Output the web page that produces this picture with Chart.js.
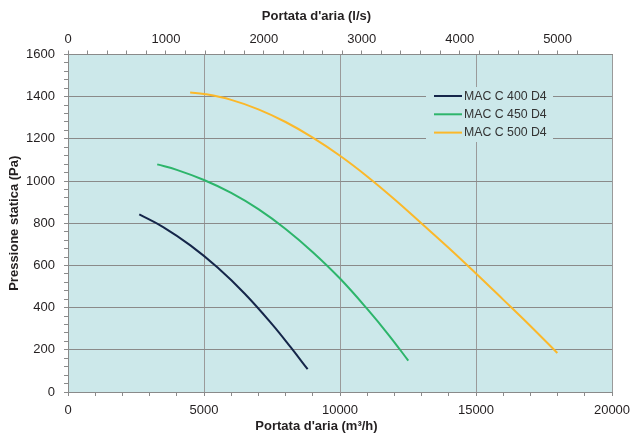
<!DOCTYPE html>
<html>
<head>
<meta charset="utf-8">
<title>Curve ventilatori MAC C</title>
<script src="https://cdn.jsdelivr.net/npm/chart.js@4.4.0/dist/chart.umd.min.js"></script>
<style>
    html, body { margin: 0; padding: 0; background: #fff; }
    #contenitore { width: 633px; height: 436px; }
</style>
</head>
<body>
<div id="contenitore"><canvas id="graficaCurve"></canvas></div>
<script>
// Portata (m3/h) e pressione statica (Pa)
const portata400 = [2620, 3500, 4500, 5500, 6500, 7500, 8200, 8810];
const pressione400 = [842, 782, 695, 590, 466, 322, 210, 108];

const portata450 = [3280, 4000, 5000, 6000, 7000, 8000, 9000, 10000, 11000, 11800, 12510];
const pressione450 = [1079, 1053, 1005, 944, 867, 773, 663, 538, 394, 269, 149];

const portata500 = [4490, 5000, 6000, 7000, 8000, 9000, 10000, 11000, 12000, 13000, 14000, 15000, 16000, 17000, 17990];
const pressione500 = [1420, 1413, 1385, 1340, 1280, 1206, 1120, 1022, 914, 799, 683, 562, 438, 313, 185];

const nomi = ["MAC C 400 D4", "MAC C 450 D4", "MAC C 500 D4"];
const colori = ["#15264a", "#2db56b", "#fbb82a"];

// Assi
const limitiPortata = [0, 20000];      // m3/h
const limitiPressione = [0, 1600];     // Pa
const m3hPerLs = 3.6;

const coloreSfondo = "#cce8ea";
const coloreGriglia = "#8a8a8a";
const coloreTesto = "#231f20";

Chart.defaults.font.family = '"Liberation Sans", Arial, sans-serif';
Chart.defaults.font.size = 13;
Chart.defaults.color = coloreTesto;

const punti = (xs, ys) => xs.map((x, i) => ({ x: x, y: ys[i] }));

// Sfondo dell'area del grafico
const sfondoArea = {
    id: "sfondoArea",
    beforeDraw(chart) {
        const { ctx, chartArea: a } = chart;
        ctx.save();
        ctx.fillStyle = coloreSfondo;
        ctx.fillRect(a.left, a.top, a.right - a.left, a.bottom - a.top);
        ctx.restore();
    }
};

// Legenda dentro l'area, sopra la griglia
const legendaInterna = {
    id: "legendaInterna",
    beforeDatasetsDraw(chart) {
        const { ctx, chartArea: a } = chart;
        const x0 = a.left + 358, y0 = a.top + 32.5;
        ctx.save();
        ctx.fillStyle = coloreSfondo;
        ctx.fillRect(x0, y0, 127, 55);
        ctx.font = '12.3px "Liberation Sans", Arial, sans-serif';
        ctx.textBaseline = "middle";
        chart.data.datasets.forEach((ds, i) => {
            const y = y0 + 9 + i * 18.3;
            ctx.strokeStyle = ds.borderColor;
            ctx.lineWidth = 2;
            ctx.beginPath();
            ctx.moveTo(x0 + 8, y);
            ctx.lineTo(x0 + 36, y);
            ctx.stroke();
            ctx.fillStyle = "#333";
            ctx.fillText(ds.label, x0 + 38, y + 0.5);
        });
        ctx.restore();
    }
};

// niente margini extra per le etichette agli estremi
const senzaPadding = s => { s.paddingLeft = 0; s.paddingRight = 0; };

const ctx = document.getElementById("graficaCurve").getContext("2d");

new Chart(ctx, {
    type: "scatter",
    data: {
        datasets: [
            { label: nomi[0], data: punti(portata400, pressione400), borderColor: colori[0] },
            { label: nomi[1], data: punti(portata450, pressione450), borderColor: colori[1] },
            { label: nomi[2], data: punti(portata500, pressione500), borderColor: colori[2] }
        ].map(ds => Object.assign(ds, {
            showLine: true,
            pointRadius: 0,
            borderWidth: 2,
            fill: false,
            tension: 0.4
        }))
    },
    options: {
        responsive: true,
        maintainAspectRatio: false,
        animation: false,
        layout: { padding: 0 },
        plugins: {
            legend: { display: false },
            tooltip: { enabled: false },
            title: {
                display: true,
                position: "top",
                text: "Portata d'aria (l/s)",
                color: coloreTesto,
                font: { size: 13, weight: "bold" },
                padding: { top: 9, bottom: 6 }
            },
            subtitle: {
                display: true,
                position: "bottom",
                text: "Portata d'aria (m³/h)",
                color: coloreTesto,
                font: { size: 13, weight: "bold" },
                padding: { top: 4, bottom: 2 }
            }
        },
        scales: {
            x: {
                type: "linear",
                position: "bottom",
                min: limitiPortata[0],
                max: limitiPortata[1],
                ticks: {
                    stepSize: 1000,
                    autoSkip: false,
                    maxRotation: 0,
                    padding: 7,
                    callback: v => (Math.round(v) % 5000 === 0 ? v : "")
                },
                grid: {
                    color: c => (c.tick && Math.round(c.tick.value) % 5000 === 0 ? "#9a9a9a" : "rgba(0,0,0,0)"),
                    tickColor: coloreGriglia,
                    tickLength: 4,
                    lineWidth: 1
                },
                border: { color: coloreGriglia },
                afterFit: s => { s.height = 22.4; senzaPadding(s); }
            },
            xLs: {
                type: "linear",
                position: "top",
                min: 0,
                max: limitiPortata[1] / m3hPerLs,
                afterBuildTicks: s => {
                    s.ticks = s.ticks.filter(t => Math.round(t.value) % 200 === 0);
                },
                ticks: {
                    stepSize: 200,
                    autoSkip: false,
                    maxRotation: 0,
                    padding: 3,
                    callback: v => (Math.round(v) % 1000 === 0 ? v : "")
                },
                grid: {
                    drawOnChartArea: false,
                    tickColor: coloreGriglia,
                    tickLength: 4
                },
                border: { color: coloreGriglia },
                afterFit: s => { s.height = 23.9; senzaPadding(s); }
            },
            y: {
                type: "linear",
                position: "left",
                min: limitiPressione[0],
                max: limitiPressione[1],
                ticks: {
                    stepSize: 40,
                    autoSkip: false,
                    padding: 9,
                    callback: v => (Math.round(v) % 200 === 0 ? v : "")
                },
                grid: {
                    color: c => (c.tick && Math.round(c.tick.value) % 200 === 0 ? coloreGriglia : "rgba(0,0,0,0)"),
                    tickColor: coloreGriglia,
                    tickLength: 4,
                    lineWidth: 1
                },
                border: { color: coloreGriglia },
                title: {
                    display: true,
                    text: "Pressione statica (Pa)",
                    color: coloreTesto,
                    font: { size: 13, weight: "bold" },
                    padding: { top: 7, bottom: 0 }
                },
                afterFit: s => { s.width = 68; }
            },
            margineDx: {
                type: "linear",
                position: "right",
                ticks: { display: false },
                grid: { display: false },
                border: { display: false },
                afterFit: s => { s.width = 21; }
            }
        }
    },
    plugins: [sfondoArea, legendaInterna]
});
</script>
</body>
</html>
